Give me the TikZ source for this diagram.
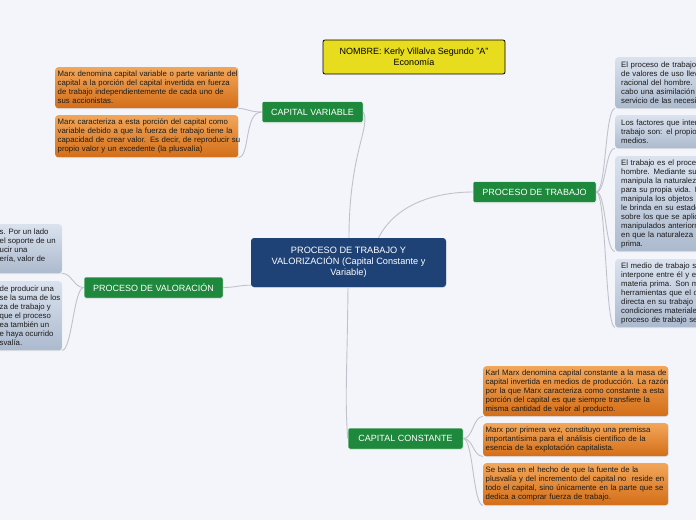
\documentclass[tikz,border=0pt]{standalone}
\usepackage{fontspec}
\setmainfont{Liberation Sans}
\usetikzlibrary{shadows}
\definecolor{bg}{RGB}{244,245,251}
\definecolor{linec}{RGB}{192,193,202}
\definecolor{greenc}{RGB}{30,137,60}
\definecolor{navy}{RGB}{30,66,118}
\definecolor{yel}{RGB}{232,220,30}
\definecolor{orTop}{RGB}{242,166,90}
\definecolor{orBot}{RGB}{212,110,24}
\definecolor{bluTop}{RGB}{218,226,238}
\definecolor{bluBot}{RGB}{172,186,206}
\definecolor{txt}{RGB}{28,28,28}
\newcommand\oneline[1]{\mbox{#1}}
\hfuzz=20pt
\tikzset{
 conn/.style={draw=linec, line width=0.9pt},
 softshadow/.style={drop shadow={opacity=0.18, shadow xshift=0.4pt, shadow yshift=-0.8pt}},
 topic/.style={fill=greenc, text=white, rounded corners=2pt, font=\fontsize{9}{11}\selectfont, inner xsep=2pt, inner ysep=0pt, minimum height=21pt, draw=white, line width=0.5pt, softshadow},
 centre/.style={fill=navy, text=white, rounded corners=3pt, font=\fontsize{9.2}{11}\selectfont, align=center, minimum width=195pt, minimum height=49pt, inner sep=2pt, softshadow},
 titlebox/.style={fill=yel, draw=black, line width=0.8pt, rounded corners=2pt, font=\fontsize{9}{10.5}\selectfont, align=center, minimum width=182pt, minimum height=34pt, inner sep=2pt},
 obox/.style={anchor=north west, rounded corners=3pt, top color=orTop, bottom color=orBot, align=left, font=\fontsize{7.8}{9}\selectfont, text=txt, inner xsep=2.5pt, inner ysep=0pt, text width=178pt, softshadow},
 bbox/.style={anchor=north west, rounded corners=3pt, top color=bluTop, bottom color=bluBot, align=left, font=\fontsize{7.8}{9}\selectfont, text=txt, inner xsep=6pt, inner ysep=0pt, text width=100pt, softshadow},
 frag/.style={anchor=base west, font=\fontsize{7.8}{9}\selectfont, text=txt, inner sep=0pt}
}
\begin{document}
\begin{tikzpicture}[x=1pt,y=-1pt]
\useasboundingbox (0,0) rectangle (696,520);
\fill[bg] (0,0) rectangle (696,520);
\clip (0,0) rectangle (696,520);

% main nodes
\node[centre] (center) at (348.5,262.5) {PROCESO DE TRABAJO Y\\VALORIZACIÓN (Capital Constante y\\Variable)};
\node[titlebox] (title) at (414,57) {NOMBRE: Kerly Villalva Segundo "A"\\Economía};
\node[topic, minimum width=101pt] (cv) at (312.5,112) {CAPITAL VARIABLE};
\node[topic, minimum width=123pt] (pt) at (534.5,192) {PROCESO DE TRABAJO};
\node[topic, minimum width=139pt] (pv) at (153.5,287.5) {PROCESO DE VALORACIÓN};
\node[topic, minimum width=115pt] (cc) at (405.5,438.5) {CAPITAL CONSTANTE};

% orange boxes (capital variable)
\node[obox, minimum height=41pt] (a1) at (55,67) {\oneline{Marx denomina capital variable o parte variante del}\\\oneline{capital a la porción del capital invertida en fuerza}\\\oneline{de trabajo independientemente de cada uno de}\\\oneline{sus accionistas.}};
\node[obox, minimum height=42pt] (a2) at (55,115) {\oneline{Marx caracteriza a esta porción del capital como}\\\oneline{variable debido a que la fuerza de trabajo tiene la}\\\oneline{capacidad de crear valor. Es decir, de reproducir su}\\\oneline{propio valor y un excedente (la plusvalía)}};

% orange boxes (capital constante)
\node[obox, text width=180pt, minimum height=50pt] (c1) at (483,366) {\oneline{Karl Marx denomina capital constante a la masa de}\\\oneline{capital invertida en medios de producción. La razón}\\\oneline{por la que Marx caracteriza como constante a esta}\\\oneline{porción del capital es que siempre transfiere la}\\\oneline{misma cantidad de valor al producto.}};
\node[obox, text width=180pt, minimum height=33pt] (c2) at (483,423) {\oneline{Marx por primera vez, constituyo una premissa}\\\oneline{importantísima para el análisis científico de la}\\\oneline{esencia de la explotación capitalista.}};
\node[obox, text width=180pt, minimum height=42pt] (c3) at (483,463) {\oneline{Se basa en el hecho de que la fuente de la}\\\oneline{plusvalía y del incremento del capital no\ \ reside en}\\\oneline{todo el capital, sino únicamente en la parte que se}\\\oneline{dedica a comprar fuerza de trabajo.}};

% blue boxes (proceso de trabajo)
\node[bbox, minimum height=51pt] (r1) at (615,57) {El proceso de trabajo\\de valores de uso lleva\\racional del hombre. E\\cabo una asimilación\\servicio de las necesic};
\node[bbox, minimum height=33pt] (r2) at (615,115) {Los factores que inter\\trabajo son: el propio\\medios.};
\node[bbox, minimum height=95pt] (r3) at (615,156) {El trabajo es el proces\\hombre. Mediante su\\manipula la naturalez\\para su propia vida. E\\manipula los objetos\\le brinda en su estado\\sobre los que se aplica\\manipulados anteriorm\\en que la naturaleza lo\\prima.};
\node[bbox, minimum height=68pt] (r4) at (615,259) {El medio de trabajo so\\interpone entre él y el\\materia prima. Son me\\herramientas que el ol\\directa en su trabajo y\\condiciones materiale\\proceso de trabajo se};

% blue boxes (proceso de valoracion)
\node[bbox, anchor=north east, text width=188pt, minimum height=49pt] (l1) at (62,224) {};
\node[bbox, anchor=north east, text width=188pt, minimum height=69pt] (l2) at (62,281) {};
\node[frag] (l1a) at (-0.5,234) {s. Por un lado};
\node[frag] (l1b) at (-0.5,243) {el soporte de un};
\node[frag] (l1c) at (-0.5,252) {ucir una};
\node[frag] (l1d) at (-0.5,261) {ería, valor de};
\node[frag] (l2a) at (-0.5,291) {de producir una};
\node[frag] (l2b) at (-0.5,300) {se la suma de los};
\node[frag] (l2c) at (-0.5,309) {za de trabajo y};
\node[frag] (l2d) at (-0.5,318) {que el proceso};
\node[frag] (l2e) at (-0.5,327) {ea también un};
\node[frag] (l2f) at (-0.5,336) {e haya ocurrido};
\node[frag] (l2g) at (-0.5,345) {svalía.};

% connectors from center
\draw[conn] ([xshift=0.5pt]center.north) .. controls +(0,-85) and +(8,14) .. (cv.east);
\draw[conn] ([xshift=30pt]center.north) .. controls +(18,-35) and +(-35,0) .. (pt.west);
\draw[conn] ([yshift=2pt]center.south west) .. controls +(-12,0) and +(12,0) .. (pv.east);
\draw[conn] ([xshift=-0.5pt]center.south) .. controls +(-1,90) and +(-3,-40) .. (cc.west);

% sub connectors
\draw[conn] (cv.west) .. controls +(-12,0) and +(8,0) .. (a1.south east);
\draw[conn] (cv.west) .. controls +(-18,0) and +(12,0) .. (a2.south east);
\draw[conn] (pt.east) .. controls +(10,0) and +(-10,0) .. (r1.south west);
\draw[conn] (pt.east) .. controls +(10,0) and +(-10,0) .. (r2.south west);
\draw[conn] (pt.east) .. controls +(10,0) and +(-10,0) .. (r3.south west);
\draw[conn] (pt.east) .. controls +(10,0) and +(-10,0) .. (r4.south west);
\draw[conn] (cc.east) .. controls +(10,0) and +(-10,0) .. (c1.south west);
\draw[conn] (cc.east) .. controls +(10,0) and +(-10,0) .. (c2.south west);
\draw[conn] (cc.east) .. controls +(10,0) and +(-10,0) .. (c3.south west);
\draw[conn] (pv.west) .. controls +(-10,0) and +(10,0) .. (l1.south east);
\draw[conn] (pv.west) .. controls +(-10,0) and +(10,0) .. (l2.south east);
\end{tikzpicture}
\end{document}
